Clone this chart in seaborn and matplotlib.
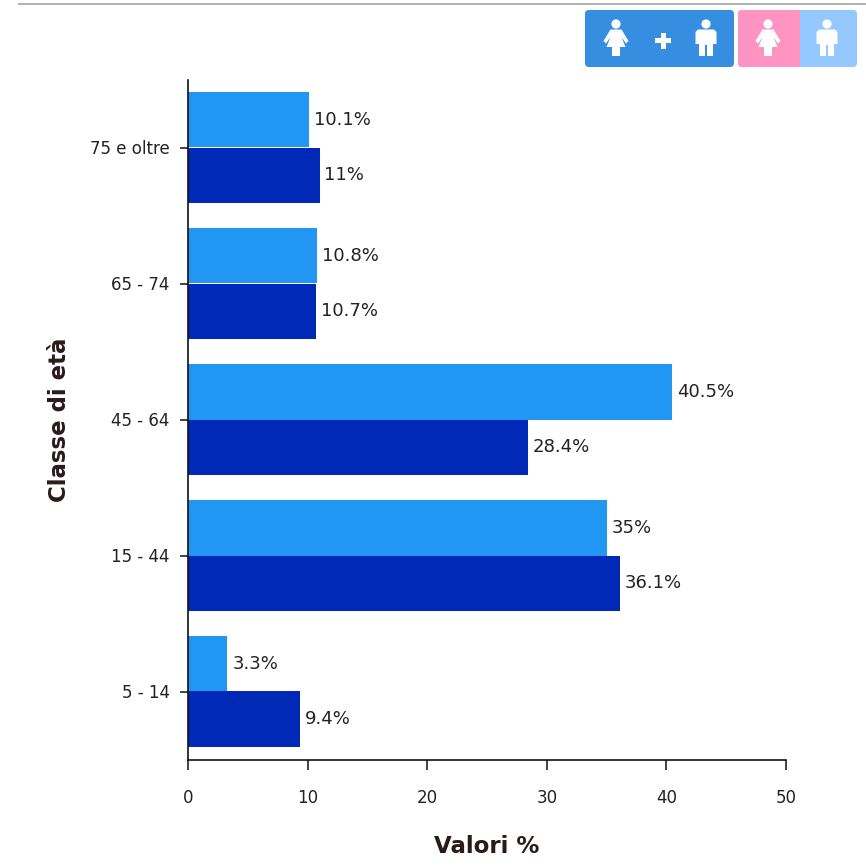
import matplotlib
matplotlib.use("Agg")
import matplotlib.pyplot as plt
from matplotlib.patches import Circle, FancyBboxPatch, Polygon, Rectangle
import pandas as pd
import seaborn as sns

age_classes = ["75 e oltre", "65 - 74", "45 - 64", "15 - 44", "5 - 14"]
series_names = ["Femmine", "Maschi"]
values_first = [10.1, 10.8, 40.5, 35, 3.3]
values_second = [11, 10.7, 28.4, 36.1, 9.4]
bar_colors = ["#2196F3", "#0029B8"]
x_ticks = [0, 10, 20, 30, 40, 50]

SIZE = 866
sns.set_theme(style="white")
plt.rcParams["font.family"] = ["DejaVu Sans"]

table = pd.DataFrame({
    "classe": age_classes * 2,
    "serie": [series_names[0]] * 5 + [series_names[1]] * 5,
    "valore": values_first + values_second,
})

fig = plt.figure(figsize=(SIZE / 100, SIZE / 100), dpi=100, facecolor="white")
ax = fig.add_axes([188 / SIZE, 1 - 759.5 / SIZE, 598 / SIZE, 680 / SIZE])

sns.barplot(
    data=table, y="classe", x="valore", hue="serie", order=age_classes,
    hue_order=series_names, palette=bar_colors, width=0.81, gap=0,
    errorbar=None, legend=False, saturation=1, ax=ax, orient="y",
    linewidth=0, edgecolor="none",
)

for container in ax.containers:
    ax.bar_label(container, fmt="%g%%", padding=3.5, fontsize=13, color="#222222")

ax.set_xlim(0, 50)
ax.set_ylim(4.5, -0.5)
ax.set_xticks(x_ticks)
ax.tick_params(axis="both", width=1.2, color="#222222", labelsize=12,
               labelcolor="#222222", bottom=True, left=True)
ax.tick_params(axis="x", length=7.2, pad=14)
ax.tick_params(axis="y", length=5.8, pad=7.5)
for side in ("top", "right"):
    ax.spines[side].set_visible(False)
for side in ("left", "bottom"):
    ax.spines[side].set_color("#111111")
    ax.spines[side].set_linewidth(1.2)

ax.set_xlabel("Valori %", fontsize=16.5, fontweight="bold", color="#2a1a1a", labelpad=20)
ax.set_ylabel("Classe di età", fontsize=16.5, fontweight="bold", color="#2a1a1a", labelpad=13.5)

# Pixel-based overlay for the header rule and the selector buttons
overlay = fig.add_axes([0, 0, 1, 1], facecolor="none")
overlay.set_xlim(0, SIZE)
overlay.set_ylim(SIZE, 0)
overlay.axis("off")
overlay.add_patch(Rectangle((18, 2.5), SIZE - 18, 2.5, color="#b4b4b4", lw=0))


def rounded(x0, y0, x1, y1, color):
    overlay.add_patch(FancyBboxPatch((x0 + 4, y0 + 4), x1 - x0 - 8, y1 - y0 - 8,
                                     boxstyle="round,pad=4,rounding_size=4",
                                     facecolor=color, edgecolor="none"))


def woman(cx):
    overlay.add_patch(Circle((cx, 24), 4.6, color="white", lw=0))
    overlay.add_patch(Polygon([(cx - 5.5, 29.5), (cx + 5.5, 29.5), (cx + 12.5, 41), (cx + 10, 43.5),
                               (cx + 5.5, 37), (cx + 9.5, 47), (cx + 4, 47), (cx + 4, 56),
                               (cx - 4, 56), (cx - 4, 47), (cx - 9.5, 47), (cx - 5.5, 37),
                               (cx - 10, 43.5), (cx - 12.5, 41)], closed=True, color="white", lw=0))


def man(cx):
    overlay.add_patch(Circle((cx, 24), 4.6, color="white", lw=0))
    overlay.add_patch(Polygon([(cx - 8, 29.5), (cx + 8, 29.5), (cx + 10.5, 32), (cx + 10.5, 44),
                               (cx + 7, 44), (cx + 7, 56), (cx + 1, 56), (cx + 1, 45),
                               (cx - 1, 45), (cx - 1, 56), (cx - 7, 56), (cx - 7, 44),
                               (cx - 10.5, 44), (cx - 10.5, 32)],
                              closed=True, color="white", lw=0))


rounded(585, 10, 734, 67, "#368EE0")
rounded(738, 10, 857, 67, "#94C8FF")
overlay.add_patch(FancyBboxPatch((742, 14), 54, 49, boxstyle="round,pad=4,rounding_size=4",
                                 facecolor="#FF94C2", edgecolor="none"))
overlay.add_patch(Rectangle((790, 10), 10, 57, color="#FF94C2", lw=0))
woman(616)
man(706)
overlay.add_patch(Rectangle((655, 38), 16, 5, color="white", lw=0))
overlay.add_patch(Rectangle((660.5, 32.5), 5, 16, color="white", lw=0))
woman(768)
man(827)

fig.savefig("out.png", dpi=100)
